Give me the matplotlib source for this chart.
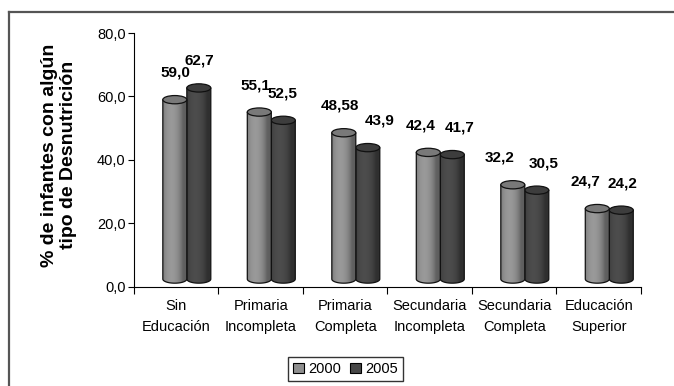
import numpy as np
import matplotlib.pyplot as plt
from matplotlib.patches import Ellipse, PathPatch, Patch
from matplotlib.path import Path
from matplotlib.lines import Line2D

plt.rcParams['font.family'] = ['Liberation Sans', 'DejaVu Sans']

# Data
categories = ['Sin\nEducación', 'Primaria\nIncompleta', 'Primaria\nCompleta',
              'Secundaria\nIncompleta', 'Secundaria\nCompleta', 'Educación\nSuperior']
values_2000 = [59.0, 55.1, 48.58, 42.4, 32.2, 24.7]
values_2005 = [62.7, 52.5, 43.9, 41.7, 30.5, 24.2]
labels_2000 = ['59,0', '55,1', '48,58', '42,4', '32,2', '24,7']
labels_2005 = ['62,7', '52,5', '43,9', '41,7', '30,5', '24,2']
series = ['2000', '2005']
yticks = [0, 20, 40, 60, 80]
ytick_labels = ['0,0', '20,0', '40,0', '60,0', '80,0']

# horizontal nudges of the value labels (pixels), as placed in the original
nudge_2000 = [1, -4, -4, -8, -13, -12]
nudge_2005 = [1, -1, 12, 7, 7, 1]

light = np.array([0.56, 0.56, 0.56])
dark = np.array([0.28, 0.28, 0.28])


def cylinder(ax, xc, w, top, color, z):
    rx, ry, base = w / 2, 1.3, 2.5
    th = np.linspace(np.pi, 2 * np.pi, 40)
    verts = [(xc - rx, top)] + list(zip(xc + rx * np.cos(th), base + ry * np.sin(th))) \
        + [(xc + rx, top), (xc - rx, top)]
    body = PathPatch(Path(verts, closed=True), facecolor='none',
                     edgecolor='#111111', lw=0.9, zorder=z + 0.2)
    ax.add_patch(body)
    t = np.linspace(0, 1, 64)
    shade = 0.85 + 0.3 * np.sin(np.pi * np.clip(t * 1.2, 0, 1)) ** 0.7 - 0.2 * t
    img = np.clip(color[None, :] * shade[:, None], 0, 1)[None, :, :]
    im = ax.imshow(img, extent=[xc - rx, xc + rx, base - ry, top], aspect='auto',
                   interpolation='bilinear', zorder=z)
    im.set_clip_path(body)
    ax.add_patch(Ellipse((xc, top), w, 2 * ry, facecolor=color * 0.85,
                         edgecolor='#111111', lw=0.9, zorder=z + 0.3))


fig = plt.figure(figsize=[6.74, 3.86], dpi=100)
ax = fig.add_axes([0.1988, 0.2565, 0.7522, 0.658])

# outer frame
fig.add_artist(Line2D([9 / 674, 9 / 674], [0, 1 - 12 / 386], transform=fig.transFigure,
                      color='#555555', lw=1.6))
fig.add_artist(Line2D([9 / 674, 1], [1 - 12 / 386, 1 - 12 / 386], transform=fig.transFigure,
                      color='#555555', lw=1.6))

w = 0.284
shift = 0.125
for i in range(len(categories)):
    x1 = i + shift - w / 2
    x2 = i + shift + w / 2
    cylinder(ax, x2, w, values_2005[i], dark, 3)
    cylinder(ax, x1, w, values_2000[i], light, 4)
    ax.annotate(labels_2000[i], (x1, values_2000[i]), xytext=(nudge_2000[i], 20),
                textcoords='offset pixels', ha='center', va='bottom',
                fontsize=11, fontweight='bold')
    ax.annotate(labels_2005[i], (x2, values_2005[i]), xytext=(nudge_2005[i], 20),
                textcoords='offset pixels', ha='center', va='bottom',
                fontsize=11, fontweight='bold')

ax.set_xlim(-0.5, len(categories) - 0.5)
ax.set_ylim(0, 80)
ax.set_yticks(yticks)
ax.set_yticklabels(ytick_labels, fontsize=10.5)
ax.set_xticks(np.arange(len(categories)))
ax.set_xticklabels(categories, fontsize=10.5, linespacing=1.55)
ax.set_xticks(np.arange(len(categories) + 1) - 0.5, minor=True)
ax.tick_params(axis='x', which='major', length=0, pad=9)
ax.tick_params(axis='x', which='minor', length=5, width=0.8, direction='out')
ax.tick_params(axis='y', length=4, width=0.8, direction='out', pad=2)
for s in ['top', 'right']:
    ax.spines[s].set_visible(False)
for s in ['left', 'bottom']:
    ax.spines[s].set_linewidth(0.8)
ax.set_ylabel('% de infantes con algún\ntipo de Desnutrición', fontsize=14,
              fontweight='bold', linespacing=1.15)
ax.yaxis.set_label_coords(-0.112, 0.52)

handles = [Patch(facecolor=light, edgecolor='black', lw=0.8),
           Patch(facecolor=dark, edgecolor='black', lw=0.8)]
fig.legend(handles, series, loc='center', bbox_to_anchor=(0.513, 0.044), ncol=2,
           fontsize=10.5, frameon=True, fancybox=False, edgecolor='black',
           handlelength=0.75, handleheight=0.75, handletextpad=0.3, columnspacing=0.6,
           borderpad=0.35)

fig.savefig('out.png', dpi=100)
